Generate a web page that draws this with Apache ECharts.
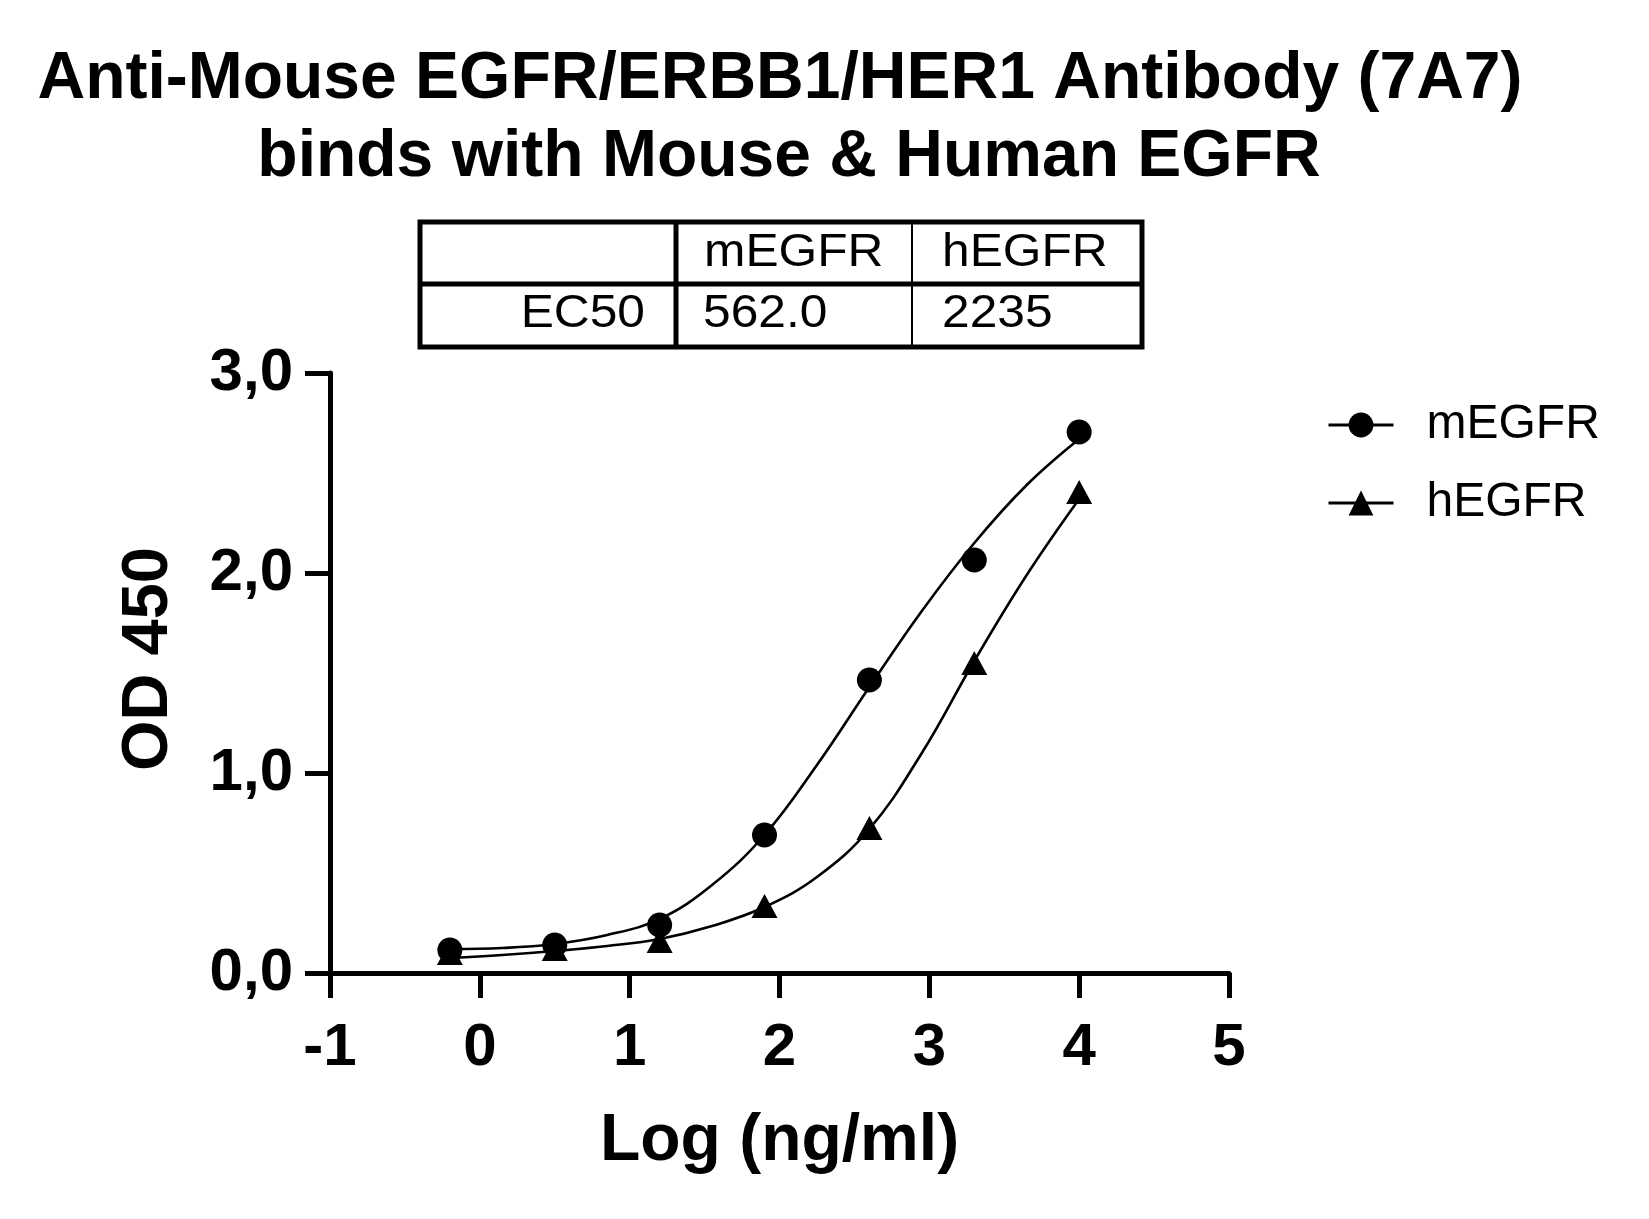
<!DOCTYPE html>
<html>
<head>
<meta charset="utf-8">
<script src="https://cdn.jsdelivr.net/npm/echarts@6/dist/echarts.min.js"></script>
<style>
html,body{margin:0;padding:0;background:#fff;}
#chart{width:1649px;height:1219px;}
</style>
</head>
<body>
<div id="chart"></div>
<script>
// ---- data ----
const titleLines = ['Anti-Mouse EGFR/ERBB1/HER1 Antibody (7A7)', 'binds with Mouse & Human EGFR'];
const seriesNames = ['mEGFR', 'hEGFR'];
const xPoints = [-0.2, 0.5, 1.2, 1.9, 2.6, 3.3, 4.0];
const mEGFR = [0.115, 0.14, 0.24, 0.69, 1.465, 2.065, 2.705];
const hEGFR = [0.10, 0.12, 0.16, 0.335, 0.725, 1.55, 2.405];
// fitted curves
const xFit = [-0.2, 0.15, 0.5, 0.85, 1.2, 1.55, 1.9, 2.25, 2.6, 2.95, 3.3, 3.65, 4.0];
const mFit = [0.12, 0.125, 0.145, 0.19, 0.27, 0.44, 0.69, 1.04, 1.43, 1.81, 2.15, 2.44, 2.67];
const hFit = [0.075, 0.09, 0.11, 0.135, 0.17, 0.235, 0.33, 0.48, 0.72, 1.10, 1.56, 1.99, 2.37];
const yTickLabels = ['0,0', '1,0', '2,0', '3,0'];
const xTickLabels = ['-1', '0', '1', '2', '3', '4', '5'];
const tableHeader = ['', 'mEGFR', 'hEGFR'];
const tableRow = ['EC50', '562.0', '2235'];
const xName = 'Log (ng/ml)';
const yName = 'OD 450';

const FONT = 'Arial, "Liberation Sans", Helvetica, sans-serif';
const chart = echarts.init(document.getElementById('chart'));

function pairs(xs, ys) { return xs.map((x, i) => [x, ys[i]]); }

// table graphic
const tX = 420, tY = 222, tW = 722, tH = 125, c1 = 676, c2 = 912, rY = 284;
const tableGraphic = [
  { type: 'rect', shape: { x: tX, y: tY, width: tW, height: tH }, style: { fill: 'none', stroke: '#000', lineWidth: 5 } },
  { type: 'line', shape: { x1: c1, y1: tY, x2: c1, y2: tY + tH }, style: { stroke: '#000', lineWidth: 5 } },
  { type: 'line', shape: { x1: c2, y1: tY, x2: c2, y2: tY + tH }, style: { stroke: '#000', lineWidth: 2 } },
  { type: 'line', shape: { x1: tX, y1: rY, x2: tX + tW, y2: rY }, style: { stroke: '#000', lineWidth: 5 } }
];
const cellTxt = (t, x, y, align) => ({
  type: 'text', x: x, y: y, scaleX: 1.08,
  style: { text: t, font: '46px ' + FONT, fill: '#000', align: align, verticalAlign: 'middle' }
});
tableGraphic.push(cellTxt(tableHeader[1], 704, 253, 'left'));
tableGraphic.push(cellTxt(tableHeader[2], 942, 253, 'left'));
tableGraphic.push(cellTxt(tableRow[0], 645, 314, 'right'));
tableGraphic.push(cellTxt(tableRow[1], 703, 314, 'left'));
tableGraphic.push(cellTxt(tableRow[2], 942, 314, 'left'));

const titleStyle = { fontFamily: FONT, fontWeight: 'bold', fontSize: 66, color: '#000' };

const option = {
  animation: false,
  backgroundColor: '#fff',
  title: [
    { text: titleLines[0], left: 780, top: 47, textAlign: 'center', padding: 0, textStyle: titleStyle },
    { text: titleLines[1], left: 789, top: 125, textAlign: 'center', padding: 0, textStyle: titleStyle }
  ],
  legend: {
    data: seriesNames,
    orient: 'vertical',
    left: 1327, top: 401, padding: 0,
    itemWidth: 65, itemHeight: 31, itemGap: 30,
    textStyle: { fontFamily: FONT, fontSize: 48, lineHeight: 48, color: '#000', padding: [0, 0, 0, 28] },
    lineStyle: { color: '#000', width: 3, opacity: 1 },
    itemStyle: { color: '#000' },
    selectedMode: false
  },
  grid: { left: 330, right: 420, top: 373, bottom: 246, containLabel: false },
  xAxis: {
    type: 'value', min: -1, max: 5, interval: 1,
    name: xName, nameLocation: 'middle', nameGap: 136,
    nameTextStyle: { fontFamily: FONT, fontWeight: 'bold', fontSize: 66, color: '#000' },
    axisLine: { onZero: false, lineStyle: { color: '#000', width: 5 } },
    axisTick: { length: 25, lineStyle: { color: '#000', width: 5 } },
    axisLabel: {
      margin: 45, fontFamily: FONT, fontWeight: 'bold', fontSize: 60, color: '#000',
      formatter: v => xTickLabels[Math.round(v) + 1]
    },
    splitLine: { show: false }
  },
  yAxis: {
    type: 'value', min: 0, max: 3, interval: 1,
    name: yName, nameLocation: 'middle', nameGap: 148, nameRotate: 90,
    nameTextStyle: { fontFamily: FONT, fontWeight: 'bold', fontSize: 65, color: '#000', padding: [0, 0, 0, 28] },
    axisLine: { show: true, onZero: false, lineStyle: { color: '#000', width: 5 } },
    axisTick: { show: true, length: 25, lineStyle: { color: '#000', width: 5 } },
    axisLabel: {
      margin: 37, fontFamily: FONT, fontWeight: 'bold', fontSize: 60, color: '#000',
      formatter: v => yTickLabels[Math.round(v)]
    },
    splitLine: { show: false }
  },
  series: [
    { name: 'mEGFR fit', type: 'line', data: pairs(xFit, mFit), smooth: 0.4, symbol: 'none',
      lineStyle: { color: '#000', width: 2.6 }, z: 2, silent: true },
    { name: 'hEGFR fit', type: 'line', data: pairs(xFit, hFit), smooth: 0.4, symbol: 'none',
      lineStyle: { color: '#000', width: 2.6 }, z: 2, silent: true },
    { name: seriesNames[0], type: 'line', data: pairs(xPoints, mEGFR), symbol: 'circle', symbolSize: 25,
      showAllSymbol: true, itemStyle: { color: '#000' }, lineStyle: { color: '#000', opacity: 0 }, z: 3 },
    { name: seriesNames[1], type: 'line', data: pairs(xPoints, hEGFR), symbol: 'triangle', symbolSize: [26, 24],
      showAllSymbol: true, itemStyle: { color: '#000' }, lineStyle: { color: '#000', opacity: 0 }, z: 3 }
  ],
  graphic: tableGraphic
};
chart.setOption(option);
</script>
</body>
</html>
